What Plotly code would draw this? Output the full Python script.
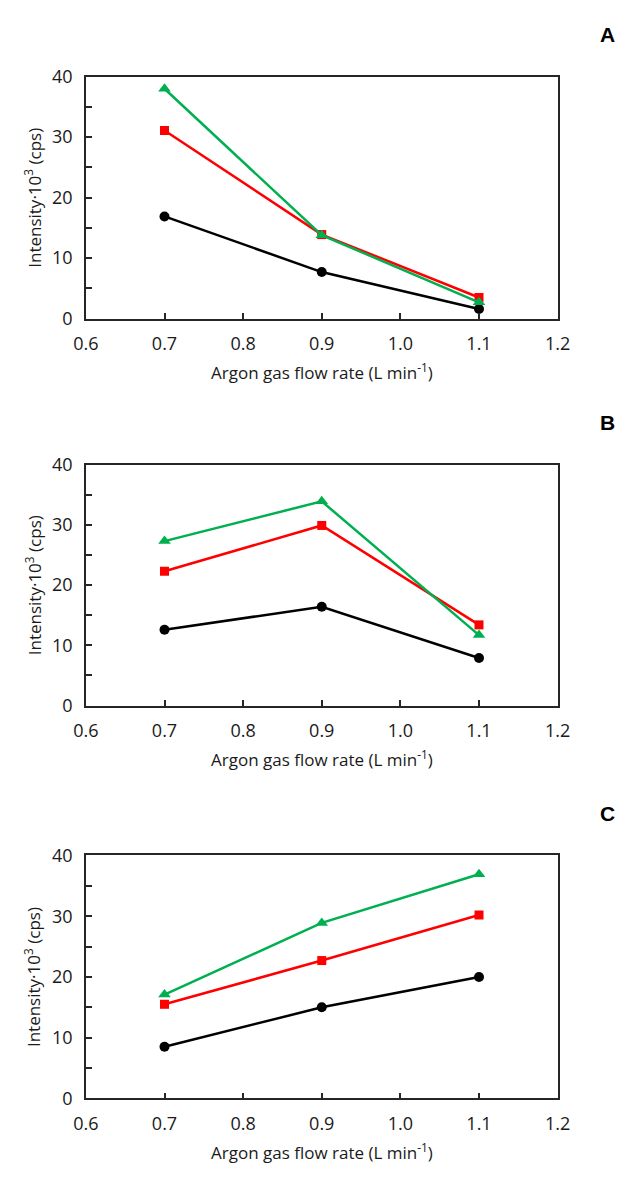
import plotly.graph_objects as go

flow_rate = [0.7, 0.9, 1.1]

# Panel A
a_black = [16.9, 7.7, 1.6]
a_red = [31.1, 13.9, 3.5]
a_green = [38.0, 13.8, 2.7]
# Panel B
b_black = [12.6, 16.4, 7.9]
b_red = [22.3, 29.9, 13.4]
b_green = [27.3, 33.9, 11.7]
# Panel C
c_black = [8.5, 15.0, 20.0]
c_red = [15.5, 22.7, 30.2]
c_green = [17.1, 28.9, 36.9]

panel_letters = ["A", "B", "C"]
x_ticks = [0.6, 0.7, 0.8, 0.9, 1.0, 1.1, 1.2]
x_ticklabels = ["0.6", "0.7", "0.8", "0.9", "1.0", "1.1", "1.2"]
y_ticks = [0, 10, 20, 30, 40]

W, H = 632, 1178
FONT = "Open Sans"
TXT = "#1a1a1a"
# pixel positions of each plot frame (top, bottom)
frames = [(65, 312), (461, 707), (860, 1108)]
x_left, x_right = 76, 568

panels = [
    (a_black, a_red, a_green),
    (b_black, b_red, b_green),
    (c_black, c_red, c_green),
]

fig = go.Figure()
series_style = [
    ("black", "circle", 10),
    ("#FF0000", "square", 9),
    ("#00B050", "triangle-up", 11),
]

annotations = []
layout_axes = {}
for i, (vals, (top, bot)) in enumerate(zip(panels, frames)):
    n = i + 1
    xa = "x" if n == 1 else f"x{n}"
    ya = "y" if n == 1 else f"y{n}"
    for v, (col, sym, sz) in zip(vals, series_style):
        fig.add_trace(go.Scatter(
            x=flow_rate, y=v, xaxis=xa, yaxis=ya, mode="lines+markers",
            line=dict(color=col, width=2.5),
            marker=dict(color=col, symbol=sym, size=sz),
            showlegend=False, cliponaxis=False,
        ))
    axis_common = dict(
        showline=True, linecolor="#262626", linewidth=1.5, mirror=True,
        ticks="inside", ticklen=6, tickwidth=1.5, tickcolor="#262626",
        showgrid=False, zeroline=False,
        tickfont=dict(family=FONT, size=18, color=TXT),
        ticklabelstandoff=8,
    )
    layout_axes["xaxis" if n == 1 else f"xaxis{n}"] = dict(
        axis_common, range=[0.6, 1.2], tickvals=x_ticks, ticktext=x_ticklabels,
        domain=[x_left / W, x_right / W],
        anchor=ya,
    )
    layout_axes["yaxis" if n == 1 else f"yaxis{n}"] = dict(
        axis_common, range=[0, 40], tickvals=y_ticks,
        minor=dict(tickvals=[5, 15, 25, 35], ticks="inside", ticklen=6,
                   tickwidth=1.5, tickcolor="#262626"),
        domain=[1 - bot / H, 1 - top / H],
        anchor=xa,
    )
    # axis titles
    annotations.append(dict(
        text="Argon gas flow rate (L min<sup>-1</sup>)", xref="paper", yref="paper",
        x=(x_left + x_right) / 2 / W, y=1 - (bot + 54) / H, showarrow=False,
        font=dict(family=FONT, size=17, color=TXT), xanchor="center", yanchor="middle",
    ))
    annotations.append(dict(
        text="Intensity·10<sup>3</sup> (cps)", xref="paper", yref="paper",
        x=21 / W, y=1 - ((top + bot) / 2) / H, showarrow=False, textangle=-90,
        font=dict(family=FONT, size=17, color=TXT), xanchor="center", yanchor="middle",
    ))
    annotations.append(dict(
        text="<b>%s</b>" % panel_letters[i], xref="paper", yref="paper",
        x=620 / W, y=1 - (top - 43) / H, showarrow=False,
        font=dict(family="Liberation Sans", size=21, color="black"),
        xanchor="center", yanchor="middle",
    ))

fig.update_layout(
    width=W, height=H, margin=dict(l=0, r=0, t=0, b=0),
    paper_bgcolor="white", plot_bgcolor="white",
    annotations=annotations, **layout_axes,
)

fig.write_html("out.html")
